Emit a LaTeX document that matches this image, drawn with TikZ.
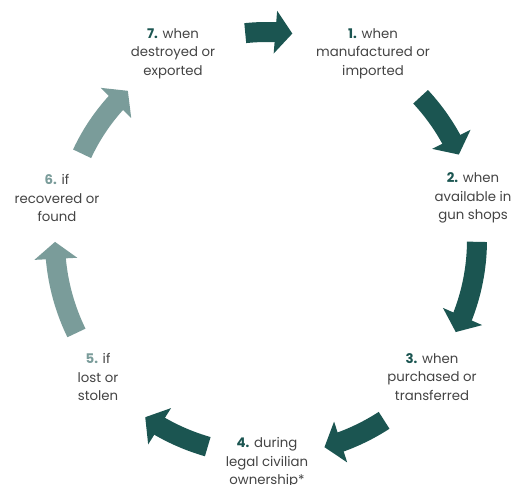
\documentclass[tikz,border=0pt]{standalone}
\usepackage{fontspec}
\setmainfont{Poppins}
\usetikzlibrary{arrows.meta,bending,calc}
\definecolor{darkteal}{HTML}{1B5551}
\definecolor{lightteal}{HTML}{7A9C9A}
\definecolor{txtgray}{HTML}{444444}
\begin{document}
\begin{tikzpicture}[x=1pt,y=1pt,
  cyclearrow/.style={line width=20pt,-{Triangle[length=17pt,width=42pt]}},
  darkarrow/.style={cyclearrow,draw=darkteal,fill=darkteal},
  lightarrow/.style={cyclearrow,draw=lightteal,fill=lightteal},
  label/.style={align=center,inner sep=0pt,text=txtgray,font=\fontsize{13.3}{18.5}\selectfont}]
\useasboundingbox (0,0) rectangle (512,485);
\fill[white] (0,0) rectangle (512,485);
\coordinate (c) at (267,245);
% labels
\node[label] (l1) at (373,431.5) {{\bfseries\color{darkteal}1.} when\\manufactured or\\imported};
\node[label] (l2) at (473,287) {{\bfseries\color{darkteal}2.} when\\available in\\gun shops};
\node[label] (l3) at (432,108) {{\bfseries\color{darkteal}3.} when\\purchased or\\transferred};
\node[label] (l4) at (267,22) {{\bfseries\color{darkteal}4.} during\\legal civilian\\ownership*};
\node[label] (l5) at (98,108) {{\bfseries\color{lightteal}5.} if\\lost or\\stolen};
\node[label] (l6) at (57,287) {{\bfseries\color{lightteal}6.} if\\recovered or\\found};
\node[label] (l7) at (173,431.5) {{\bfseries\color{darkteal}7.} when\\destroyed or\\exported};
% arrow tails
\coordinate (a71) at ($(c)+(96:208)$);
\coordinate (a12) at ($(c)+(43:210)$);
\coordinate (a23) at ($(c)+(-0.5:210)$);
\coordinate (a34) at ($(c)+(-57:215)$);
\coordinate (a45) at ($(c)+(-106:215)$);
\coordinate (a56) at ($(c)+(-154:212)$);
\coordinate (a67) at ($(c)+(155:204)$);
\draw[darkarrow] (a71) arc[start angle=96,end angle=83,radius=208];
\draw[darkarrow] (a12) arc[start angle=43,end angle=24,radius=210];
\draw[darkarrow] (a23) arc[start angle=-0.5,end angle=-26,radius=210];
\draw[darkarrow] (a34) arc[start angle=-57,end angle=-74.5,radius=215];
\draw[darkarrow] (a45) arc[start angle=-106,end angle=-124.5,radius=215];
\draw[lightarrow] (a56) arc[start angle=-154,end angle=-179.5,radius=212];
\draw[lightarrow] (a67) arc[start angle=155,end angle=133,radius=204];
\end{tikzpicture}
\end{document}
